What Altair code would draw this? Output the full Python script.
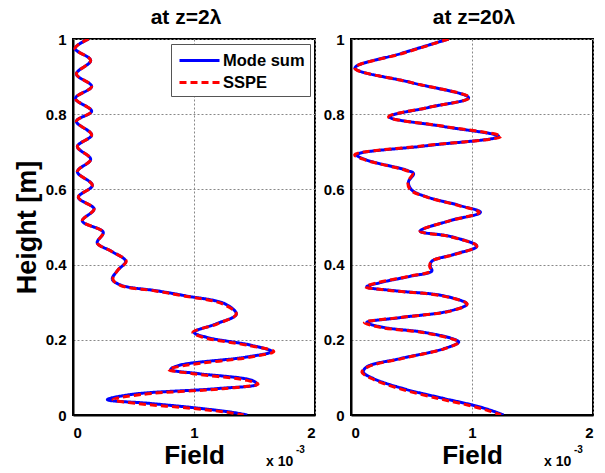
import altair as alt
import pandas as pd

FONT = "Liberation Sans"
SERIES = ["Mode sum", "SSPE"]
COLORS = ["#0000ff", "#ff0000"]

# ---- left panel (z = 2 lambda) ----
L_H = [1.0, 0.975, 0.943, 0.907, 0.874, 0.842, 0.808, 0.781, 0.745, 0.714, 0.680, 0.647,
       0.611, 0.579, 0.548, 0.516, 0.486, 0.458, 0.435, 0.409, 0.385, 0.361, 0.345, 0.330,
       0.317, 0.295, 0.268, 0.242, 0.220, 0.207, 0.185, 0.169, 0.154, 0.132, 0.121, 0.110,
       0.092, 0.082, 0.070, 0.055, 0.041, 0.031, 0.018, 0.007, 0.0]
L_MODE = [0.13, 0.017, 0.146, 0.028, 0.154, 0.02, 0.154, 0.028, 0.154, 0.036, 0.146, 0.036,
          0.16, 0.044, 0.174, 0.077, 0.25, 0.2, 0.32, 0.435, 0.37, 0.325, 0.40, 0.70,
          0.93, 1.26, 1.35, 1.18, 1.0, 1.10, 1.48, 1.64, 1.43, 0.876, 0.807, 1.04,
          1.48, 1.52, 1.18, 0.49, 0.284, 0.628, 1.04, 1.32, 1.44]
L_SSPE = [0.13, 0.017, 0.146, 0.028, 0.154, 0.02, 0.154, 0.028, 0.154, 0.036, 0.146, 0.036,
          0.16, 0.044, 0.174, 0.077, 0.25, 0.2, 0.32, 0.44, 0.37, 0.33, 0.39, 0.68,
          0.91, 1.24, 1.35, 1.19, 0.99, 1.07, 1.45, 1.66, 1.47, 0.93, 0.79, 0.99,
          1.44, 1.53, 1.24, 0.58, 0.33, 0.52, 0.97, 1.28, 1.41]

# ---- right panel (z = 20 lambda) ----
R_H = [1.0, 0.962, 0.923, 0.884, 0.844, 0.818, 0.793, 0.767, 0.741, 0.716, 0.692, 0.678,
       0.651, 0.642, 0.620, 0.599, 0.580, 0.557, 0.539, 0.517, 0.489, 0.475, 0.449, 0.427,
       0.409, 0.396, 0.383, 0.369, 0.352, 0.341, 0.330, 0.317, 0.295, 0.277, 0.259, 0.246,
       0.233, 0.220, 0.202, 0.194, 0.176, 0.150, 0.128, 0.114, 0.097, 0.070, 0.044, 0.026,
       0.013, 0.0]
R_MODE = [0.807, 0.42, 0.033, 0.50, 0.972, 0.64, 0.318, 0.77, 1.22, 0.62, 0.047, 0.13,
          0.46, 0.517, 0.475, 0.50, 0.627, 0.90, 1.07, 0.82, 0.572, 0.82, 1.04, 0.85,
          0.668, 0.655, 0.668, 0.489, 0.24, 0.13, 0.378, 0.765, 0.958, 0.82, 0.406, 0.13,
          0.268, 0.6, 0.848, 0.89, 0.765, 0.406, 0.13, 0.102, 0.185, 0.434, 0.765, 1.01,
          1.15, 1.26]
R_SSPE = [0.807, 0.43, 0.03, 0.50, 0.98, 0.64, 0.31, 0.78, 1.24, 0.60, 0.03, 0.12,
          0.45, 0.51, 0.47, 0.49, 0.62, 0.89, 1.06, 0.82, 0.57, 0.81, 1.04, 0.86,
          0.665, 0.65, 0.66, 0.48, 0.22, 0.12, 0.36, 0.75, 0.96, 0.83, 0.40, 0.11,
          0.24, 0.58, 0.84, 0.89, 0.77, 0.42, 0.14, 0.09, 0.17, 0.40, 0.72, 0.97,
          1.12, 1.24]

X_TICKS = [0, 1, 2]
Y_TICKS = [0, 0.2, 0.4, 0.6, 0.8, 1.0]
TITLES = ["at z=2\u03bb", "at z=20\u03bb"]
SCALE_TXT = ["x 10"]
SCALE_EXP = ["-3"]

W, H = 242, 376


def build(heights, mode, sspe, title, ytitle, show_legend, title_dx):
    rows = []
    for i, (h, v) in enumerate(zip(heights, mode)):
        rows.append({"h": h, "field": v, "series": SERIES[0], "i": i})
    for i, (h, v) in enumerate(zip(heights, sspe)):
        rows.append({"h": h, "field": v, "series": SERIES[1], "i": i})
    df = pd.DataFrame(rows)

    if show_legend:
        leg = alt.Legend(title=None, orient="top-right", offset=5, fillColor="white",
                         strokeColor="#555", padding=5, symbolType="M-2,0L2,0",
                         symbolSize=400, symbolStrokeWidth=3, symbolOffset=12,
                         labelFont=FONT, labelFontSize=16.5, labelFontWeight="bold",
                         labelColor="black", rowPadding=2, labelOffset=12, cornerRadius=0)
    else:
        leg = None

    yaxis = alt.Axis(values=Y_TICKS, format="~g", ticks=False, labelPadding=7,
                     titlePadding=4, grid=True)
    lines = alt.Chart(df).mark_line(strokeWidth=3, interpolate="catmull-rom", clip=True).encode(
        x=alt.X("field:Q", scale=alt.Scale(domain=[0, 2], nice=False),
                axis=alt.Axis(values=X_TICKS, format="~g", title="Field", ticks=False,
                              labelPadding=10, titlePadding=2, titleFontSize=26, grid=True)),
        y=alt.Y("h:Q", scale=alt.Scale(domain=[0, 1], nice=False), axis=yaxis,
                title=ytitle if ytitle else None),
        color=alt.Color("series:N", scale=alt.Scale(domain=SERIES, range=COLORS), legend=leg),
        strokeDash=alt.StrokeDash("series:N",
                                  scale=alt.Scale(domain=SERIES, range=[[1, 0], [7, 4]]),
                                  legend=leg),
        order=alt.Order("i:Q"),
    )
    t1 = alt.Chart(pd.DataFrame({"t": SCALE_TXT})).mark_text(
        font=FONT, fontSize=14, fontWeight="bold", align="left", baseline="alphabetic",
        color="black").encode(x=alt.value(193), y=alt.value(H + 51), text="t:N")
    t2 = alt.Chart(pd.DataFrame({"t": SCALE_EXP})).mark_text(
        font=FONT, fontSize=10, fontWeight="bold", align="left", baseline="alphabetic",
        color="black").encode(x=alt.value(223), y=alt.value(H + 38), text="t:N")
    return alt.layer(lines, t1, t2).resolve_scale(color="independent", strokeDash="independent").properties(
        width=W, height=H,
        title=alt.TitleParams(title, font=FONT, fontSize=21, fontWeight="bold", offset=4,
                              color="black", dx=title_dx),
    )


left = build(L_H, L_MODE, L_SSPE, TITLES[0], "Height [m]", True, -8)
right = build(R_H, R_MODE, R_SSPE, TITLES[1], None, False, 2)

chart = alt.hconcat(left, right, spacing=6).resolve_scale(
    color="independent", strokeDash="independent"
).configure(
    padding={"left": 12, "top": 6, "right": 5, "bottom": 2},
    background="white",
).configure_view(
    stroke="black", strokeWidth=2
).configure_axis(
    labelFont=FONT, labelFontSize=15, labelFontWeight="bold", labelColor="black",
    titleFont=FONT, titleFontSize=27, titleFontWeight="bold", titleColor="black",
    gridColor="#888", gridDash=[2, 2], gridWidth=1,
    domainColor="black", domainWidth=2,
)

chart.save("out.html", embed_options={"renderer": "svg", "actions": False})
